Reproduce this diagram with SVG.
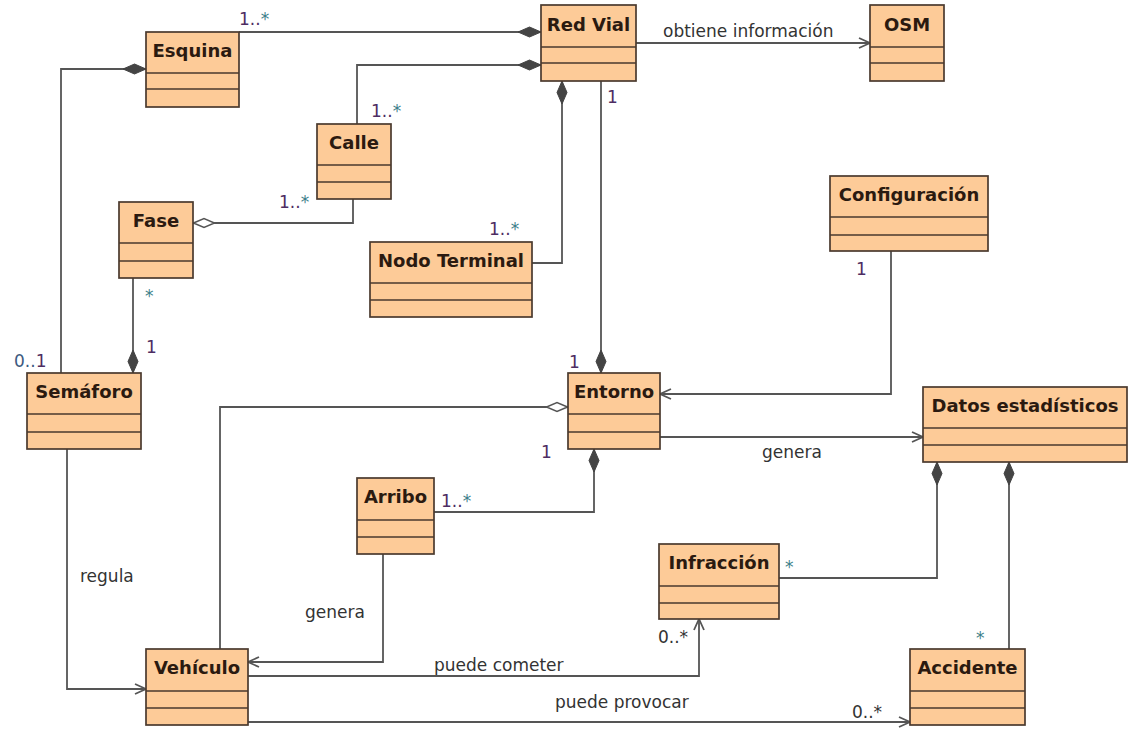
<svg xmlns="http://www.w3.org/2000/svg" width="1144" height="739" viewBox="0 0 1144 739">
<style>
.box{fill:#FDCB98;stroke:#4a3a2e;stroke-width:1.7}
.div{stroke:#4a3a2e;stroke-width:1.7}
.name{font-family:"DejaVu Sans",Verdana,sans-serif;font-weight:bold;font-size:18px;fill:#2b1a10;text-anchor:middle}
.lbl{font-family:"DejaVu Sans",Verdana,sans-serif;font-size:17px;fill:#333}
.mul{font-family:"DejaVu Sans",Verdana,sans-serif;font-size:17px;fill:#4e2c62}
.st{fill:#3c7f8a}
.bl{fill:#3d5a80}
.gr{fill:#333}
.ln{fill:none;stroke:#555;stroke-width:1.8}
</style>
<defs>
<marker id="dFill" viewBox="-25 -6 26 12" refX="0" refY="0" markerWidth="26" markerHeight="12" markerUnits="userSpaceOnUse" orient="auto">
<path d="M0,0 L-11.5,-5 L-23,0 L-11.5,5 Z" fill="#444" stroke="#444" stroke-width="1"/>
</marker>
<marker id="dOpen" viewBox="-25 -6 26 12" refX="0" refY="0" markerWidth="26" markerHeight="12" markerUnits="userSpaceOnUse" orient="auto">
<path d="M-0.5,0 L-11,-4.5 L-21.5,0 L-11,4.5 Z" fill="#fff" stroke="#555" stroke-width="1.5"/>
</marker>
<marker id="arr" viewBox="-13 -7 14 14" refX="0" refY="0" markerWidth="14" markerHeight="14" markerUnits="userSpaceOnUse" orient="auto">
<path d="M-11,-5 L0,0 L-11,5" fill="none" stroke="#555" stroke-width="1.8"/>
</marker>
</defs>
<rect width="1144" height="739" fill="#fff"/>

<g id="connectors">
<path class="ln" d="M239,32 H541" marker-end="url(#dFill)"/>
<path class="ln" d="M357,124 V65 H541" marker-end="url(#dFill)"/>
<path class="ln" d="M353,199 V223 H193" marker-end="url(#dOpen)"/>
<path class="ln" d="M61,373 V69 H146" marker-end="url(#dFill)"/>
<path class="ln" d="M133,278 V373" marker-end="url(#dFill)"/>
<path class="ln" d="M532,263 H562 V81" marker-end="url(#dFill)"/>
<path class="ln" d="M601,81 V373" marker-end="url(#dFill)"/>
<path class="ln" d="M636,43 H870" marker-end="url(#arr)"/>
<path class="ln" d="M891,251 V394 H660" marker-end="url(#arr)"/>
<path class="ln" d="M660,437 H923" marker-end="url(#arr)"/>
<path class="ln" d="M220,649 V407 H568" marker-end="url(#dOpen)"/>
<path class="ln" d="M434,512 H594 V449" marker-end="url(#dFill)"/>
<path class="ln" d="M383,554 V662 H248" marker-end="url(#arr)"/>
<path class="ln" d="M67,449 V689 H146" marker-end="url(#arr)"/>
<path class="ln" d="M248,676 H699 V619" marker-end="url(#arr)"/>
<path class="ln" d="M248,722 H910" marker-end="url(#arr)"/>
<path class="ln" d="M779,578 H937 V462" marker-end="url(#dFill)"/>
<path class="ln" d="M1009,649 V462" marker-end="url(#dFill)"/>

<text class="mul" x="239" y="25">1..<tspan class="st">*</tspan></text>
<text class="mul" x="371" y="117">1..<tspan class="st">*</tspan></text>
<text class="mul" x="279" y="208">1..<tspan class="st">*</tspan></text>
<text class="mul" x="489" y="235">1..<tspan class="st">*</tspan></text>
<text class="mul" x="607" y="103">1</text>
<text class="mul" x="14" y="367"><tspan class="bl">0..</tspan>1</text>
<text class="mul" x="145" y="302"><tspan class="st">*</tspan></text>
<text class="mul" x="146" y="353">1</text>
<text class="mul" x="569" y="368">1</text>
<text class="mul" x="541" y="458">1</text>
<text class="mul" x="441" y="507">1..<tspan class="st">*</tspan></text>
<text class="mul" x="856" y="275">1</text>
<text class="mul" x="785" y="573"><tspan class="st">*</tspan></text>
<text class="mul" x="976" y="644"><tspan class="st">*</tspan></text>
<text class="mul gr" x="852" y="718">0..*</text>
<text class="mul gr" x="658" y="643">0..*</text>

<text class="lbl" x="663" y="37">obtiene información</text>
<text class="lbl" x="762" y="458">genera</text>
<text class="lbl" x="305" y="618">genera</text>
<text class="lbl" x="80" y="582">regula</text>
<text class="lbl" x="434" y="671">puede cometer</text>
<text class="lbl" x="555" y="708">puede provocar</text>
</g>

<g id="esquina">
<rect class="box" x="146" y="32" width="93" height="75"/>
<path class="div" d="M146,73 H239 M146,89 H239"/>
<text class="name" x="192.5" y="57">Esquina</text>
</g>
<g id="red-vial">
<rect class="box" x="541" y="5" width="95" height="76"/>
<path class="div" d="M541,47 H636 M541,63 H636"/>
<text class="name" x="588.5" y="31">Red Vial</text>
</g>
<g id="osm">
<rect class="box" x="870" y="5" width="74" height="76"/>
<path class="div" d="M870,47 H944 M870,63 H944"/>
<text class="name" x="907" y="31">OSM</text>
</g>
<g id="calle">
<rect class="box" x="317" y="124" width="74" height="75"/>
<path class="div" d="M317,165 H391 M317,182 H391"/>
<text class="name" x="354" y="149">Calle</text>
</g>
<g id="fase">
<rect class="box" x="119" y="202" width="74" height="76"/>
<path class="div" d="M119,243 H193 M119,261 H193"/>
<text class="name" x="156" y="227">Fase</text>
</g>
<g id="nodo-terminal">
<rect class="box" x="370" y="242" width="162" height="75"/>
<path class="div" d="M370,283 H532 M370,300 H532"/>
<text class="name" x="451" y="267">Nodo Terminal</text>
</g>
<g id="configuracion">
<rect class="box" x="830" y="176" width="158" height="75"/>
<path class="div" d="M830,217 H988 M830,235 H988"/>
<text class="name" x="909" y="201">Configuración</text>
</g>
<g id="semaforo">
<rect class="box" x="27" y="373" width="114" height="76"/>
<path class="div" d="M27,414 H141 M27,432 H141"/>
<text class="name" x="84" y="398">Semáforo</text>
</g>
<g id="entorno">
<rect class="box" x="568" y="373" width="92" height="76"/>
<path class="div" d="M568,414 H660 M568,432 H660"/>
<text class="name" x="614" y="398">Entorno</text>
</g>
<g id="datos-estadisticos">
<rect class="box" x="923" y="387" width="204" height="75"/>
<path class="div" d="M923,428 H1127 M923,445 H1127"/>
<text class="name" x="1025" y="412">Datos estadísticos</text>
</g>
<g id="arribo">
<rect class="box" x="357" y="478" width="77" height="76"/>
<path class="div" d="M357,520 H434 M357,537 H434"/>
<text class="name" x="395.5" y="503">Arribo</text>
</g>
<g id="infraccion">
<rect class="box" x="659" y="544" width="120" height="75"/>
<path class="div" d="M659,586 H779 M659,603 H779"/>
<text class="name" x="719" y="569">Infracción</text>
</g>
<g id="vehiculo">
<rect class="box" x="146" y="649" width="102" height="76"/>
<path class="div" d="M146,691 H248 M146,708 H248"/>
<text class="name" x="197" y="674">Vehículo</text>
</g>
<g id="accidente">
<rect class="box" x="910" y="649" width="115" height="76"/>
<path class="div" d="M910,691 H1025 M910,708 H1025"/>
<text class="name" x="967.5" y="674">Accidente</text>
</g>
</svg>
